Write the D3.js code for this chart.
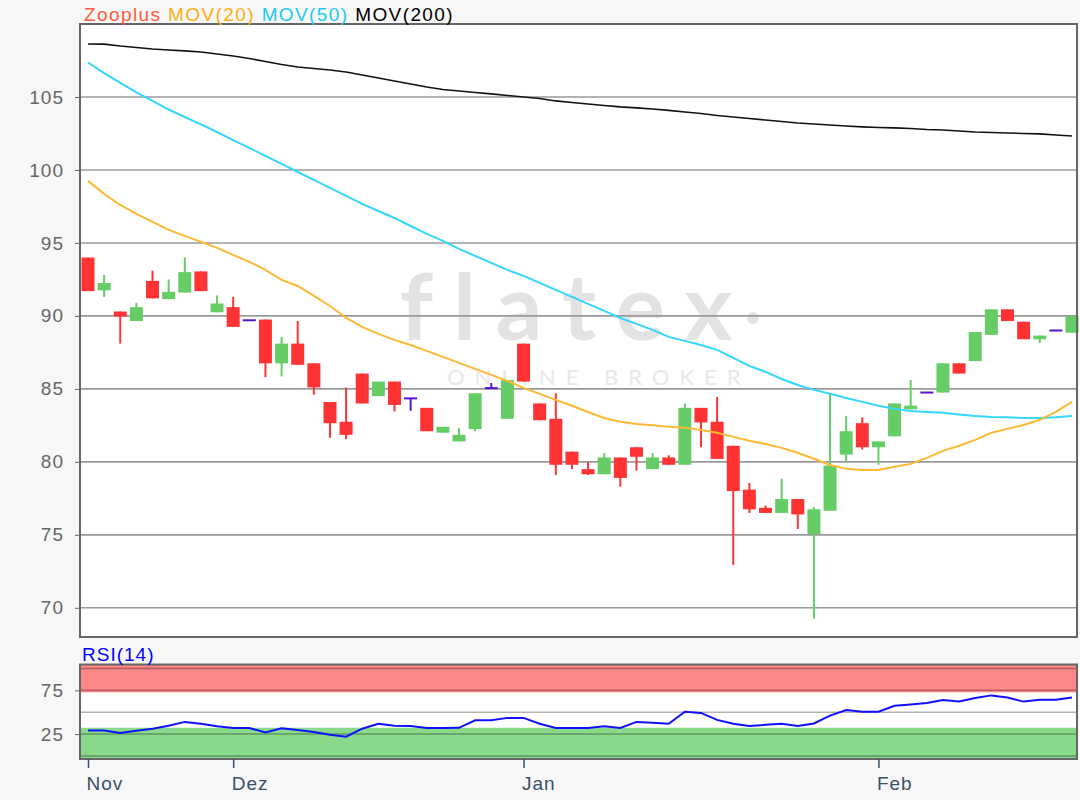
<!DOCTYPE html>
<html>
<head>
<meta charset="utf-8">
<script src="https://cdn.jsdelivr.net/npm/d3@7"></script>
<style>
body { margin: 0; background: #f7f7f7; }
svg { display: block; font-family: "Liberation Sans", Arial, sans-serif; }
</style>
</head>
<body>
<script>
// candles, one per trading day (index based x axis)
const openP  = [94.0, 91.75, 90.3, 89.65, 92.4, 91.15, 91.6, 93.05, 90.25, 90.6, 89.7, 89.75, 86.75, 88.1, 86.75, 84.1, 82.75, 86.05, 84.5, 85.5, 84.35, 83.7, 82.0, 81.4, 82.25, 85.05, 82.95, 88.1, 84.0, 82.95, 80.7, 79.5, 79.15, 80.3, 81.0, 79.5, 80.3, 79.8, 83.7, 82.75, 81.1, 78.1, 76.85, 76.5, 77.45, 75.05, 76.65, 80.5, 82.65, 81.0, 81.75, 83.6, 84.75, 84.75, 86.75, 86.9, 88.7, 90.45, 89.6, 88.4, 89.0, 88.85];
const highP  = [94.0, 92.8, 90.3, 90.9, 93.1, 92.5, 94.0, 93.05, 91.4, 91.3, 89.7, 89.75, 88.55, 89.65, 86.75, 84.1, 85.1, 86.05, 85.5, 85.5, 84.35, 83.7, 82.4, 82.3, 84.7, 85.4, 85.6, 88.1, 84.0, 84.7, 80.7, 80.0, 80.6, 80.3, 81.0, 80.6, 80.45, 84.0, 83.7, 84.45, 81.1, 78.55, 77.0, 78.85, 77.45, 76.9, 84.65, 83.15, 83.05, 81.4, 84.0, 85.6, 84.75, 86.75, 86.75, 88.9, 90.45, 90.45, 89.6, 88.65, 89.0, 90.0];
const lowP   = [91.7, 91.3, 88.1, 89.65, 91.2, 91.15, 91.6, 91.7, 90.25, 89.23, 89.7, 85.8, 85.85, 86.65, 84.6, 81.65, 81.55, 84.0, 84.5, 83.45, 83.5, 82.1, 82.0, 81.4, 82.1, 85.05, 82.95, 85.5, 82.85, 79.1, 79.5, 79.1, 79.15, 78.3, 79.4, 79.5, 79.8, 79.8, 81.0, 80.2, 72.95, 76.5, 76.5, 76.5, 75.4, 69.25, 76.65, 80.0, 80.85, 79.8, 81.75, 83.6, 84.75, 84.75, 86.05, 86.9, 88.7, 89.65, 88.4, 88.15, 89.0, 88.85];
const closeP = [91.7, 92.25, 89.95, 90.6, 91.2, 91.65, 93.0, 91.7, 90.85, 89.25, 89.7, 86.75, 88.1, 86.65, 85.1, 82.65, 81.85, 84.0, 85.5, 83.9, 84.35, 82.1, 82.4, 81.85, 84.7, 85.05, 85.6, 85.5, 82.85, 79.8, 79.8, 79.15, 80.3, 78.9, 80.35, 80.3, 79.8, 83.7, 82.7, 80.2, 78.0, 76.75, 76.5, 77.45, 76.4, 76.75, 79.75, 82.1, 81.0, 81.4, 84.0, 83.85, 84.75, 86.75, 86.05, 88.9, 90.45, 89.65, 88.4, 88.65, 89.0, 90.0];

const mov20  = [99.25, 98.36, 97.6, 96.99, 96.44, 95.89, 95.48, 95.07, 94.66, 94.18, 93.7, 93.15, 92.47, 92.05, 91.37, 90.68, 89.86, 89.25, 88.77, 88.36, 88.01, 87.6, 87.19, 86.78, 86.37, 85.96, 85.55, 85.07, 84.66, 84.25, 83.84, 83.42, 83.01, 82.74, 82.6, 82.5, 82.4, 82.33, 82.19, 81.99, 81.71, 81.44, 81.23, 80.96, 80.62, 80.21, 79.79, 79.52, 79.45, 79.45, 79.66, 79.86, 80.27, 80.75, 81.1, 81.51, 81.99, 82.26, 82.53, 82.88, 83.42, 84.11];
const mov50  = [107.36, 106.64, 105.96, 105.31, 104.73, 104.14, 103.63, 103.12, 102.6, 102.05, 101.51, 100.96, 100.41, 99.86, 99.32, 98.77, 98.22, 97.67, 97.19, 96.71, 96.16, 95.62, 95.14, 94.59, 94.11, 93.63, 93.15, 92.74, 92.26, 91.78, 91.3, 90.82, 90.34, 89.86, 89.45, 89.04, 88.56, 88.29, 88.01, 87.67, 87.12, 86.58, 86.16, 85.68, 85.27, 84.93, 84.66, 84.38, 84.11, 83.84, 83.63, 83.49, 83.42, 83.36, 83.25, 83.15, 83.08, 83.05, 83.01, 83.01, 83.05, 83.15];
const mov200 = [108.63, 108.62, 108.49, 108.39, 108.29, 108.22, 108.16, 108.08, 107.95, 107.81, 107.64, 107.43, 107.23, 107.05, 106.95, 106.85, 106.71, 106.51, 106.3, 106.1, 105.89, 105.68, 105.51, 105.41, 105.31, 105.21, 105.1, 105.0, 104.9, 104.73, 104.62, 104.52, 104.42, 104.32, 104.25, 104.18, 104.08, 103.97, 103.87, 103.73, 103.63, 103.53, 103.42, 103.32, 103.22, 103.15, 103.08, 103.01, 102.95, 102.91, 102.88, 102.84, 102.77, 102.74, 102.67, 102.6, 102.57, 102.53, 102.5, 102.47, 102.4, 102.33];
const rsi    = [29.0, 29.0, 26.3, 28.8, 31.1, 34.5, 38.9, 36.7, 33.9, 31.9, 31.9, 26.9, 31.6, 29.6, 27.3, 24.3, 22.0, 31.1, 36.7, 34.4, 34.1, 31.9, 31.9, 32.1, 40.8, 40.8, 43.5, 43.5, 36.8, 31.9, 31.9, 31.9, 33.9, 31.9, 38.9, 37.9, 36.8, 50.5, 49.2, 41.2, 36.7, 34.1, 35.6, 36.8, 34.1, 37.1, 46.1, 52.4, 50.5, 50.5, 57.4, 58.8, 60.5, 63.8, 62.1, 66.1, 69.2, 66.8, 62.1, 64.1, 64.1, 66.8];

const monthLabels = ["Nov", "Dez", "Jan", "Feb"];
const monthIdx = [0, 9, 27, 49];
const priceTicks = [70, 75, 80, 85, 90, 95, 100, 105];
const rsiTicks = [25, 75];
const rsiGrid = [0, 25, 50, 75, 100];

const width = 1080, height = 800;
const pLeft = 80, pRight = 1077, pTop = 24, pBottom = 637;
const rTop = 664.5, rBottom = 759;

const svg = d3.select('body').append('svg').attr('width', width).attr('height', height);
svg.append('rect').attr('width', width).attr('height', height).attr('fill', '#f7f7f7');

const x = d3.scaleLinear().domain([0, openP.length - 1]).range([88, 1072]);
const y = d3.scaleLinear().domain([68, 110]).range([pBottom, pTop]);
const yr = d3.scaleLinear().domain([-3.5, 104.5]).range([rBottom, rTop]);

// ---- price panel
svg.append('rect').attr('x', pLeft).attr('y', pTop).attr('width', pRight - pLeft).attr('height', pBottom - pTop).attr('fill', '#fff');

// watermark
const wm = svg.append('g').attr('fill', '#e3e3e3').style('font-family', 'Lato, "Open Sans", sans-serif');
wm.append('text').attr('x', 400).attr('y', 340).attr('font-size', 92).attr('font-weight', 700).attr('letter-spacing', 20).text('flatex');
wm.append('circle').attr('cx', 753).attr('cy', 318).attr('r', 6);
wm.append('text').attr('x', 447).attr('y', 385).attr('font-size', 22).attr('letter-spacing', 10).attr('fill', '#e8e8e8').text('ONLINE BROKER');

svg.append('g').selectAll('line').data(priceTicks).enter().append('line')
  .attr('x1', pLeft).attr('x2', pRight)
  .attr('y1', d => y(d)).attr('y2', d => y(d))
  .attr('stroke', '#9a9a9a').attr('stroke-width', 1.6);

const yAxis = svg.append('g').attr('transform', `translate(${pLeft},0)`)
  .call(d3.axisLeft(y).tickValues(priceTicks).tickSize(5).tickPadding(11));
yAxis.select('.domain').remove();
yAxis.selectAll('line').attr('stroke', '#666');
yAxis.selectAll('text').attr('font-size', 19).attr('fill', '#666').attr('letter-spacing', 1).style('font-family', '"Liberation Sans", Arial, sans-serif');

// candles
const candles = d3.range(openP.length).map(i => ({i, o: openP[i], h: highP[i], l: lowP[i], c: closeP[i]}));
const colorOf = d => d.c > d.o ? '#66cc66' : (d.c < d.o ? '#ff3333' : '#5514d0');
const bw = 13;
const cg = svg.append('g');
cg.selectAll('line.wick').data(candles).enter().append('line').attr('class', 'wick')
  .attr('x1', d => x(d.i)).attr('x2', d => x(d.i))
  .attr('y1', d => y(d.h)).attr('y2', d => y(d.l))
  .attr('stroke', colorOf).attr('stroke-width', 2);
cg.selectAll('rect').data(candles.filter(d => d.c !== d.o)).enter().append('rect')
  .attr('x', d => x(d.i) - bw / 2).attr('width', bw)
  .attr('y', d => y(Math.max(d.o, d.c)))
  .attr('height', d => Math.max(1, y(Math.min(d.o, d.c)) - y(Math.max(d.o, d.c))))
  .attr('fill', colorOf);
cg.selectAll('line.doji').data(candles.filter(d => d.c === d.o)).enter().append('line').attr('class', 'doji')
  .attr('x1', d => x(d.i) - bw / 2).attr('x2', d => x(d.i) + bw / 2)
  .attr('y1', d => y(d.o)).attr('y2', d => y(d.o))
  .attr('stroke', colorOf).attr('stroke-width', 2);

// moving averages
const line = d3.line().x((d, i) => x(i)).y(d => y(d));
svg.append('path').datum(mov200).attr('d', line).attr('fill', 'none').attr('stroke', '#111').attr('stroke-width', 1.6);
svg.append('path').datum(mov50).attr('d', line).attr('fill', 'none').attr('stroke', '#33d6ff').attr('stroke-width', 2);
svg.append('path').datum(mov20).attr('d', line).attr('fill', 'none').attr('stroke', '#ffb833').attr('stroke-width', 2);

svg.append('rect').attr('x', pLeft).attr('y', pTop).attr('width', pRight - pLeft).attr('height', pBottom - pTop)
  .attr('fill', 'none').attr('stroke', '#666').attr('stroke-width', 2);

// legend
const title = svg.append('text').attr('x', 84).attr('y', 20.5).attr('font-size', 19).attr('letter-spacing', 1.4);
title.append('tspan').attr('fill', '#ff5a3c').text('Zooplus ');
title.append('tspan').attr('fill', '#ffad14').text('MOV(20) ');
title.append('tspan').attr('fill', '#1ccbf0').text('MOV(50) ');
title.append('tspan').attr('fill', '#000').text('MOV(200)');

// ---- RSI panel
svg.append('rect').attr('x', pLeft).attr('y', rTop).attr('width', pRight - pLeft).attr('height', rBottom - rTop).attr('fill', '#fff');
svg.append('rect').attr('x', pLeft).attr('y', rTop).attr('width', pRight - pLeft).attr('height', yr(72.7) - rTop).attr('fill', '#ff8787');
svg.append('rect').attr('x', pLeft).attr('y', yr(32.2)).attr('width', pRight - pLeft).attr('height', rBottom - yr(32.2)).attr('fill', '#8ad88a');
svg.append('g').selectAll('line').data(rsiGrid).enter().append('line')
  .attr('x1', pLeft).attr('x2', pRight)
  .attr('y1', d => yr(d)).attr('y2', d => yr(d))
  .attr('stroke', '#000').attr('stroke-opacity', 0.3).attr('stroke-width', 1.6);

svg.append('path').datum(rsi)
  .attr('d', d3.line().x((d, i) => x(i)).y(d => yr(d)))
  .attr('fill', 'none').attr('stroke', '#1010ff').attr('stroke-width', 2);

svg.append('rect').attr('x', pLeft).attr('y', rTop).attr('width', pRight - pLeft).attr('height', rBottom - rTop)
  .attr('fill', 'none').attr('stroke', '#666').attr('stroke-width', 2);

const rAxis = svg.append('g').attr('transform', `translate(${pLeft},0)`)
  .call(d3.axisLeft(yr).tickValues(rsiTicks).tickSize(5).tickPadding(11));
rAxis.select('.domain').remove();
rAxis.selectAll('line').attr('stroke', '#666');
rAxis.selectAll('text').attr('font-size', 19).attr('fill', '#666').attr('letter-spacing', 1).style('font-family', '"Liberation Sans", Arial, sans-serif');

svg.append('text').attr('x', 82).attr('y', 661).attr('font-size', 19).attr('letter-spacing', 1).attr('fill', '#0000ff').text('RSI(14)');

// x axis
const xAxis = svg.append('g').attr('transform', `translate(0,${rBottom})`)
  .call(d3.axisBottom(x).tickValues(monthIdx).tickFormat((d, i) => monthLabels[i]).tickSize(9).tickPadding(9));
xAxis.select('.domain').remove();
xAxis.selectAll('line').attr('stroke', '#3a5068').attr('stroke-width', 1.5);
xAxis.selectAll('text').attr('font-size', 19).attr('fill', '#3a5068').attr('letter-spacing', 1)
  .attr('text-anchor', 'start').attr('dx', -2).style('font-family', '"Liberation Sans", Arial, sans-serif');
</script>
</body>
</html>
